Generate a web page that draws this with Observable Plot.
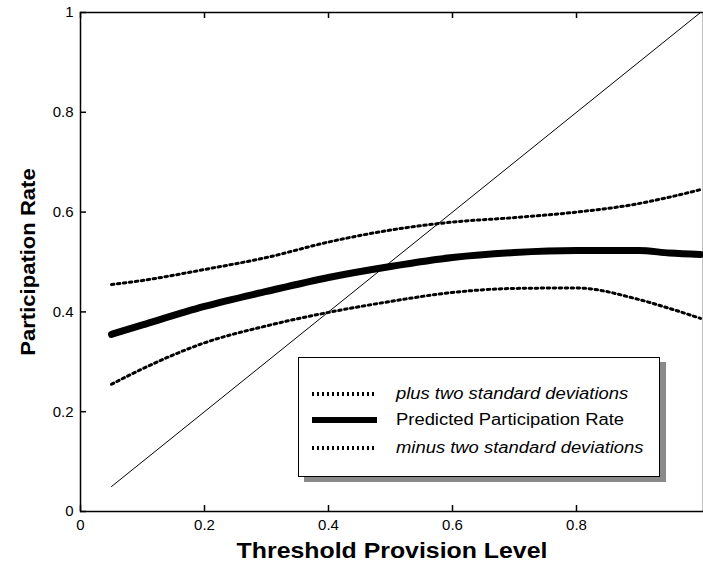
<!DOCTYPE html>
<html><head><meta charset="utf-8">
<script src="https://cdn.jsdelivr.net/npm/d3@7"></script>
<script src="https://cdn.jsdelivr.net/npm/@observablehq/plot@0.6"></script>
<style>
html,body{margin:0;padding:0;background:#fff;}
#wrap{position:relative;width:703px;height:566px;font-family:"Liberation Sans",Arial,Helvetica,sans-serif;}
#legend{position:absolute;left:298px;top:357px;width:360px;height:118px;border:1.5px solid #000;background:#fff;box-shadow:6px 5px 0 #8a8a8a;}
.sample{position:absolute;left:13px;width:65px;}
.dots{height:4px;background:repeating-linear-gradient(90deg,#000 0 2px,transparent 2px 5px);}
.thick{height:6px;background:#000;}
.lab{position:absolute;left:97px;font-size:16px;line-height:18px;color:#000;white-space:nowrap;transform:scaleX(1.15);transform-origin:0 50%;}
</style>
</head><body>
<div id="wrap"></div>
<script>
// Data
const xs        = [0.05, 0.1, 0.2, 0.3, 0.4, 0.5, 0.6, 0.7, 0.8, 0.9, 0.95, 1.0];
const predicted = [0.355, 0.374, 0.411, 0.441, 0.469, 0.491, 0.509, 0.519, 0.523, 0.523, 0.518, 0.515];
const plusTwoSD = [0.455, 0.463, 0.485, 0.509, 0.540, 0.564, 0.580, 0.589, 0.600, 0.617, 0.630, 0.645];
const minusTwoSD= [0.255, 0.286, 0.338, 0.372, 0.399, 0.421, 0.439, 0.447, 0.448, 0.425, 0.407, 0.387];
const diagX = [0.05, 1.0];
const diagY = [0.05, 1.0];
const xTicks = [0, 0.2, 0.4, 0.6, 0.8];
const xTickLabels = ["0", "0.2", "0.4", "0.6", "0.8"];
const yTicks = [0, 0.2, 0.4, 0.6, 0.8, 1];
const yTickLabels = ["0", "0.2", "0.4", "0.6", "0.8", "1"];
const xTitle = "Threshold Provision Level";
const yTitle = "Participation Rate";
const legendLabels = ["plus two standard deviations", "Predicted Participation Rate", "minus two standard deviations"];

const pred = xs.map((x, i) => ({x, y: predicted[i]}));
const upper = xs.map((x, i) => ({x, y: plusTwoSD[i]}));
const lower = xs.map((x, i) => ({x, y: minusTwoSD[i]}));
const diag = diagX.map((x, i) => ({x, y: diagY[i]}));

const W = 703, H = 566, ML = 80, MR = 0, MT = 12, MB = 55;
const innerW = W - ML - MR, innerH = H - MT - MB, tickLen = 6;

const chart = Plot.plot({
  width: W,
  height: H,
  marginLeft: ML,
  marginRight: MR,
  marginTop: MT,
  marginBottom: MB,
  style: {fontFamily: '"Liberation Sans", Arial, Helvetica, sans-serif', fontSize: "15px", background: "#fff", color: "#000"},
  x: {domain: [0, 1.00484]},
  y: {domain: [0, 1]},
  marks: [
    // inward tick marks on bottom, top and left edges
    Plot.tickX(xTicks, {x: d => d, insetTop: innerH - tickLen, stroke: "#000", strokeWidth: 1.5}),
    Plot.tickX(xTicks, {x: d => d, insetBottom: innerH - tickLen, stroke: "#000", strokeWidth: 1.5}),
    Plot.tickY(yTicks, {y: d => d, insetRight: innerW - tickLen, stroke: "#000", strokeWidth: 1.5}),
    // tick labels
    Plot.axisX({ticks: xTicks, tickSize: 0, tickPadding: 8, tickFormat: (d, i) => xTickLabels[i], label: null, fontSize: 15}),
    Plot.axisY({ticks: yTicks, tickSize: 0, tickPadding: 7, tickFormat: (d, i) => yTickLabels[i], label: null, fontSize: 15}),
    Plot.frame({stroke: "#000", strokeWidth: 1.5}),
    Plot.line(diag, {x: "x", y: "y", stroke: "#000", strokeWidth: 1}),
    Plot.line(upper, {x: "x", y: "y", stroke: "#000", strokeWidth: 3, strokeDasharray: "2.5,3.5", curve: "monotone-x"}),
    Plot.line(lower, {x: "x", y: "y", stroke: "#000", strokeWidth: 3, strokeDasharray: "2.5,3.5", curve: "monotone-x"}),
    Plot.line(pred, {x: "x", y: "y", stroke: "#000", strokeWidth: 7, curve: "monotone-x"}),
    Plot.text([xTitle], {text: d => d, frameAnchor: "bottom", textAnchor: "middle", lineAnchor: "bottom", dy: 46, fontSize: 22, fontWeight: "bold", fill: "#000", className: "xtitle"}),
    Plot.text([yTitle], {text: d => d, frameAnchor: "left", textAnchor: "middle", lineAnchor: "middle", dx: -52, rotate: -90, fontSize: 21, fontWeight: "bold", fill: "#000", className: "ytitle"})
  ]
});
const wrap = document.getElementById("wrap");
wrap.appendChild(chart);
// widen the axis titles slightly to match the reference letterforms
d3.select(chart).selectAll(".xtitle text").attr("transform", function() { return (this.getAttribute("transform") || "") + " scale(1.13,1)"; });
d3.select(chart).selectAll(".ytitle text").attr("transform", function() { return (this.getAttribute("transform") || "") + " scale(1.05,1)"; });

// Legend (overlay inside the plot area)
const leg = document.createElement("div");
leg.id = "legend";
const rowsY = [36, 62, 90];
const kinds = ["dots", "thick", "dots"];
const italic = [true, false, true];
legendLabels.forEach((t, i) => {
  const s = document.createElement("div");
  s.className = "sample " + kinds[i];
  const h = kinds[i] === "thick" ? 6 : 4;
  s.style.top = (rowsY[i] - h / 2) + "px";
  leg.appendChild(s);
  const l = document.createElement("div");
  l.className = "lab";
  l.textContent = t;
  l.style.top = (rowsY[i] - 9) + "px";
  if (italic[i]) l.style.fontStyle = "italic";
  leg.appendChild(l);
});
wrap.appendChild(leg);
</script>
</body></html>
